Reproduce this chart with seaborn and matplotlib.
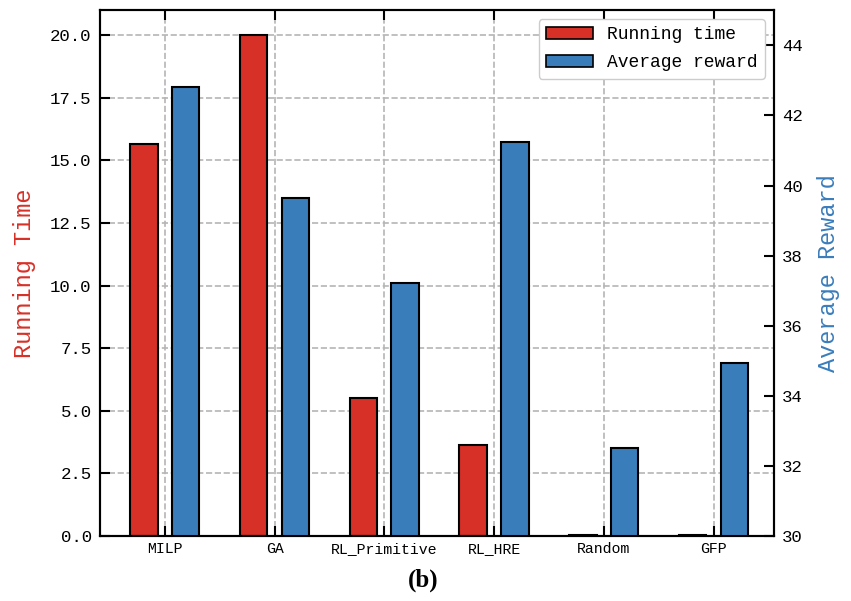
import numpy as np
import pandas as pd
import matplotlib
matplotlib.use('Agg')
import matplotlib.pyplot as plt
import seaborn as sns
from matplotlib.patches import Patch

# values
methods = ['MILP', 'GA', 'RL_Primitive', 'RL_HRE', 'Random', 'GFP']
running_time = [15.65, 20.0, 5.51, 3.63, 0.03, 0.03]
avg_reward = [42.8, 39.63, 37.23, 41.23, 32.51, 34.94]

red = '#d73027'
blue = '#3a7dbb'

sns.set_style('ticks')
plt.rcParams['font.family'] = ['Liberation Mono', 'DejaVu Sans Mono']
plt.rcParams['text.color'] = 'black'
plt.rcParams['xtick.color'] = 'black'
plt.rcParams['ytick.color'] = 'black'
plt.rcParams['axes.edgecolor'] = 'black'

pos = np.arange(len(methods))
df = pd.DataFrame({'pos': pos, 'time': running_time, 'reward': avg_reward})
df['pos_l'] = df['pos'] - 0.19
df['pos_r'] = df['pos'] + 0.19

fig = plt.figure(figsize=(8.51, 6.01), dpi=100)
ax1 = fig.add_axes([0.1175, 0.108, 0.792, 0.875])
ax2 = ax1.twinx()

sns.barplot(data=df, x='pos_l', y='time', native_scale=True, width=0.25,
            color=red, saturation=1, edgecolor='black', linewidth=1.5, ax=ax1)
sns.barplot(data=df, x='pos_r', y='reward', native_scale=True, width=0.25,
            color=blue, saturation=1, edgecolor='black', linewidth=1.5, ax=ax2)

ax1.set_xlim(-0.59, 5.55)
ax1.set_ylim(0, 21)
ax2.set_ylim(30, 45)
ax1.set_xticks(pos)
ax1.set_xticklabels(methods, fontsize=10.7)
ax1.set_yticks(np.arange(0, 20.1, 2.5))
ax1.set_yticklabels([f'{v:.1f}' for v in np.arange(0, 20.1, 2.5)], fontsize=12.5)
ax2.set_yticks(np.arange(30, 45, 2))
ax2.tick_params(axis='y', labelsize=12.5)

ax1.set_xlabel('')
ax1.set_ylabel('Running Time', color=red, fontsize=17, labelpad=10)
ax2.set_ylabel('Average Reward', color=blue, fontsize=17, labelpad=10)

ax1.set_axisbelow(True)
ax1.grid(True, linestyle='--', color='#b5b5b5', linewidth=1.2)
ax2.grid(False)

ax1.tick_params(direction='in', length=7, width=1.5, top=True, left=True)
ax1.tick_params(axis='y', pad=6)
ax1.tick_params(axis='x', pad=4)
ax2.tick_params(direction='in', length=7, width=1.5, pad=6)
for ax in (ax1, ax2):
    for s in ax.spines.values():
        s.set_linewidth(1.5)
        s.set_visible(True)
        s.set_color('black')

handles = [Patch(facecolor=red, edgecolor='black', linewidth=1.2, label='Running time'),
           Patch(facecolor=blue, edgecolor='black', linewidth=1.2, label='Average reward')]
ax2.legend(handles=handles, loc='upper right', fontsize=13, frameon=True,
           fancybox=True, framealpha=1, edgecolor='#cccccc', handlelength=2.6,
           labelspacing=0.6)

fig.text(0.497, 0.034, '(b)', ha='center', va='center', fontsize=18,
         fontweight='bold', family='Liberation Serif')

fig.savefig('out.png', dpi=100)
